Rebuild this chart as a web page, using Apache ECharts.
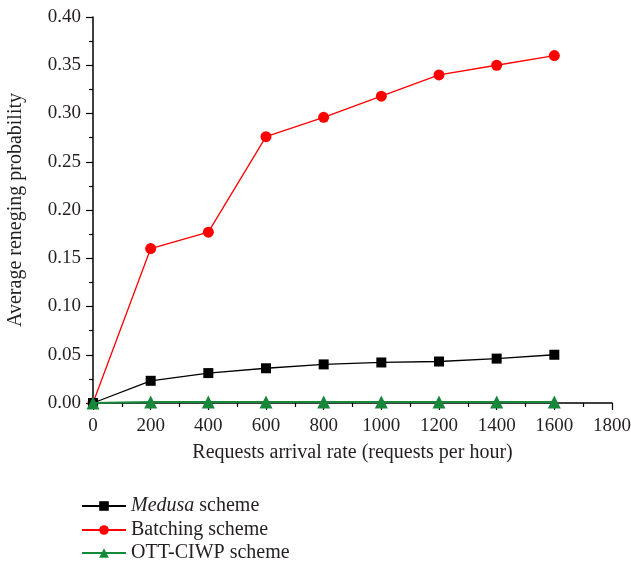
<!DOCTYPE html>
<html>
<head>
  <meta charset="utf-8" />
  <title>Average reneging probability</title>
  <script src="https://cdn.jsdelivr.net/npm/echarts@6/dist/echarts.min.js"></script>
  <style>
    html, body { margin: 0; padding: 0; background: #fff; }
    #main { width: 631px; height: 565px; }
  </style>
</head>
<body>
<div id="main"></div>
<script>
  // data
  var rates = [0, 200, 400, 600, 800, 1000, 1200, 1400, 1600];
  var medusa = [0, 0.023, 0.031, 0.036, 0.040, 0.042, 0.043, 0.046, 0.050];
  var batching = [0, 0.160, 0.177, 0.276, 0.296, 0.318, 0.340, 0.350, 0.360];
  var ottciwp = [0, 0.001, 0.001, 0.001, 0.001, 0.001, 0.001, 0.001, 0.001];
  var seriesNames = ['Medusa scheme', 'Batching scheme', 'OTT-CIWP scheme'];

  var font = 'Liberation Serif';
  var ink = '#231f20';

  function pairs(ys) {
    var out = [];
    for (var i = 0; i < rates.length; i++) out.push([rates[i], ys[i]]);
    return out;
  }

  // one legend per row so they stack like the original
  function legendRow(name, top) {
    return {
      orient: 'vertical', left: 76, top: top,
      itemWidth: 44, itemHeight: 12,
      data: [name],
      textStyle: {
        color: ink, fontFamily: font, fontSize: 20,
        rich: { i: { fontStyle: 'italic', fontFamily: font, fontSize: 20, color: ink } }
      },
      formatter: function (n) {
        return n === 'Medusa scheme' ? '{i|Medusa} scheme' : n;
      }
    };
  }

  var chart = echarts.init(document.getElementById('main'));
  var axisCommon = {
    axisLine: { show: true, lineStyle: { color: '#000', width: 1.5 } },
    axisTick: { show: true, inside: false, length: 7, lineStyle: { color: '#000', width: 1.2 } },
    minorTick: { show: true, splitNumber: 2, length: 4, lineStyle: { color: '#000', width: 1.2 } },
    splitLine: { show: false },
    axisLabel: { color: ink, fontFamily: font, fontSize: 19 },
    nameTextStyle: { color: ink, fontFamily: font, fontSize: 20 }
  };

  var option = {
    animation: false,
    backgroundColor: '#fff',
    grid: { left: 93, top: 17, right: 19, bottom: 162, containLabel: false, outerBoundsMode: 'none' },
    xAxis: Object.assign({}, axisCommon, {
      type: 'value', min: 0, max: 1800, interval: 200,
      name: 'Requests arrival rate (requests per hour)',
      nameLocation: 'middle', nameGap: 40,
      axisLabel: Object.assign({}, axisCommon.axisLabel, {
        margin: 14,
        formatter: function (v) { return String(v); }
      })
    }),
    yAxis: Object.assign({}, axisCommon, {
      type: 'value', min: 0, max: 0.4, interval: 0.05,
      name: 'Average reneging probability',
      nameLocation: 'middle', nameGap: 67,
      axisLabel: Object.assign({}, axisCommon.axisLabel, {
        margin: 12,
        formatter: function (v) { return v.toFixed(2); }
      })
    }),
    legend: [
      legendRow(seriesNames[0], 491),
      legendRow(seriesNames[1], 515),
      legendRow(seriesNames[2], 538)
    ],
    series: [
      {
        name: seriesNames[0], type: 'line', data: pairs(medusa),
        symbol: 'rect', symbolSize: 10,
        lineStyle: { color: '#000', width: 1.3 }, itemStyle: { color: '#000' }, z: 3
      },
      {
        name: seriesNames[1], type: 'line', data: pairs(batching),
        symbol: 'circle', symbolSize: 11,
        lineStyle: { color: '#ff0000', width: 1.3 }, itemStyle: { color: '#ff0000' }, z: 2
      },
      {
        name: seriesNames[2], type: 'line', data: pairs(ottciwp),
        symbol: 'triangle', symbolSize: 13,
        lineStyle: { color: '#17873a', width: 2 }, itemStyle: { color: '#17873a' }, z: 4
      }
    ]
  };
  chart.setOption(option);
</script>
</body>
</html>
